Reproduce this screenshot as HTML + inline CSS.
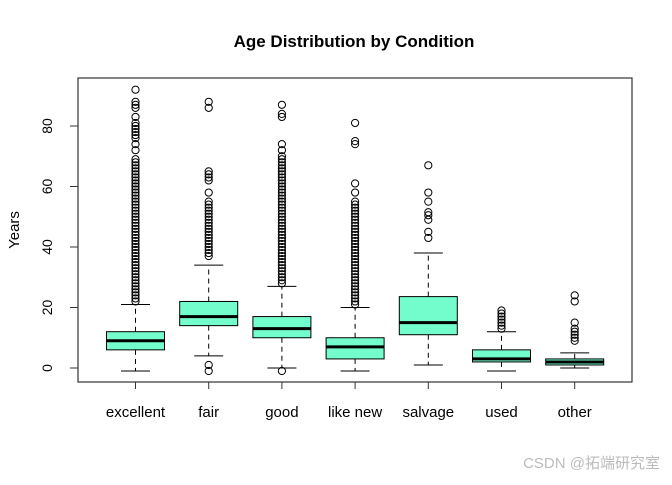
<!DOCTYPE html>
<html><head><meta charset="utf-8"><style>
body{margin:0;background:#fff;}
svg text{font-family:"Liberation Sans",Arial,sans-serif;}
</style></head><body>
<svg id="c" width="672" height="480" xmlns="http://www.w3.org/2000/svg">
<text x="354" y="47" text-anchor="middle" font-size="17" font-weight="bold">Age Distribution by Condition</text>
<text transform="translate(19,230) rotate(-90)" text-anchor="middle" font-size="15">Years</text>
<rect x="78" y="78" width="554" height="304" fill="none" stroke="#333" stroke-width="1.2"/>
<g id="marks"></g>
<text x="660" y="468" text-anchor="end" font-size="15" fill="#bbb" font-family="Liberation Sans, Noto Sans CJK SC, sans-serif">CSDN @拓端研究室</text>
</svg>
<script>
const categories=["excellent","fair","good","like new","salvage","used","other"];
const q1=[6,14,10,3,11,2,1];
const medians=[9,17,13,7,15,3,2];
const q3=[12,22,17,10,23.6,6,3];
const whiskLo=[-1,4,0,-1,1,-1,0];
const whiskHi=[21,34,27,20,38,12,5];
const outliers=[
[22,23,24,25,26,27,28,29,30,31,32,33,34,35,36,37,38,39,40,41,42,43,44,45,46,47,48,49,50,51,52,53,54,55,56,57,58,59,60,61,62,63,64,65,66,67,68,69,72,74,76,77,78,79,80,81,83,86,87,88,92],
[-1,1,37,38,39,40,41,42,43,44,45,46,47,48,49,50,51,52,53,54,55,58,62,63,64,65,86,88],
[-1,28,29,30,31,32,33,34,35,36,37,38,39,40,41,42,43,44,45,46,47,48,49,50,51,52,53,54,55,56,57,58,59,60,61,62,63,64,65,66,67,68,69,70,72,74,83,84,87],
[21,22,23,24,25,26,27,28,29,30,31,32,33,34,35,36,37,38,39,40,41,42,43,44,45,46,47,48,49,50,51,52,53,54,55,58,61,74,75,81],
[43,45,49,50.5,51.5,55,58,67],
[13,14,15,16,17,18,19],
[9,10,11,12,13,15,22,24]
];
const yTicks=[0,20,40,60,80];
const NS="http://www.w3.org/2000/svg";
const g=document.getElementById('marks');
const svg=document.getElementById('c');
const y=v=>368-v*3.025;
const x=i=>135.5+i*73.2;
function mk(t,a,p){const e=document.createElementNS(NS,t);for(const k in a)e.setAttribute(k,a[k]);(p||g).appendChild(e);return e;}
yTicks.forEach(v=>{
 const t=mk('line',{x1:70,x2:78,y1:y(v),y2:y(v),stroke:'#333'});
 
 
 const l=mk('text',{transform:`translate(52,${y(v)}) rotate(-90)`,'text-anchor':'middle','font-size':14});
 l.textContent=v;
 
 
});
categories.forEach((c,i)=>{
 const cx=x(i),hw=29,cw=14.5;
 const t=mk('line',{x1:cx,x2:cx,y1:382,y2:389,stroke:'#333'});
 
 
 const l=mk('text',{x:cx,y:417,'text-anchor':'middle','font-size':15});
 l.textContent=c;
 
 
 const w1=mk('line',{x1:cx,x2:cx,y1:y(q3[i]),y2:y(whiskHi[i]),stroke:'#000','stroke-dasharray':'5,4'});
 
 
 const w2=mk('line',{x1:cx,x2:cx,y1:y(q1[i]),y2:y(whiskLo[i]),stroke:'#000','stroke-dasharray':'5,4'});
 
 
 [whiskHi[i],whiskLo[i]].forEach(v=>{
  const cap=mk('line',{x1:cx-cw,x2:cx+cw,y1:y(v),y2:y(v),stroke:'#000'});
  
  
 });
 const b=mk('rect',{x:cx-hw,y:y(q3[i]),width:hw*2,height:y(q1[i])-y(q3[i]),fill:'#74fdcc',stroke:'#000','stroke-width':1});
 
 
 const m=mk('line',{x1:cx-hw,x2:cx+hw,y1:y(medians[i]),y2:y(medians[i]),stroke:'#000','stroke-width':3});
 
 
 outliers[i].forEach(v=>{
  const o=mk('circle',{cx:cx,cy:y(v),r:3.6,fill:'none',stroke:'#000','stroke-width':1});
  
  
 });
});
</script>
</body></html>
